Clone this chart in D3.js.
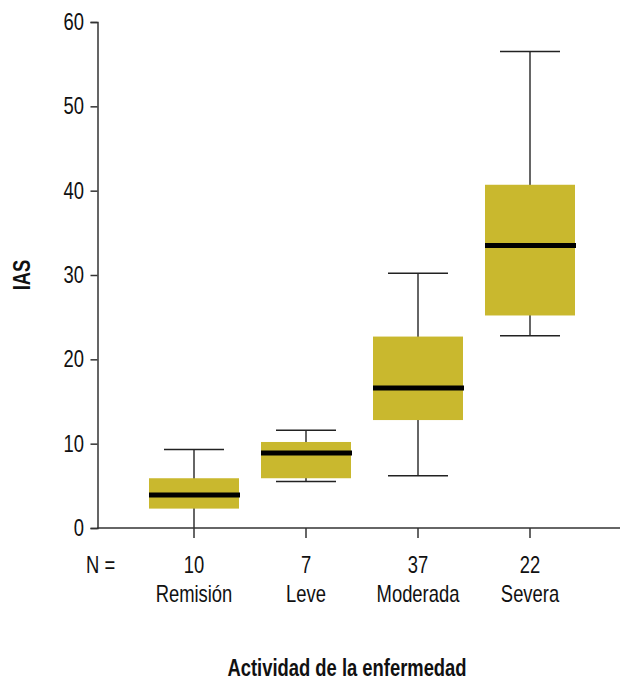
<!DOCTYPE html>
<html>
<head>
  <meta charset="UTF-8">
  <title>IAS por actividad de la enfermedad</title>
  <style>
    body { margin: 0; padding: 0; background: #fff; }
    text { font-family: "Liberation Sans", Arial, sans-serif; fill: #111; }
  </style>
</head>
<body>
<svg width="620" height="681"></svg>
<script src="https://d3js.org/d3.v7.min.js"></script>
<script>

var categories = ["Remisión", "Leve", "Moderada", "Severa"]
var counts = [10, 7, 37, 22]
var whiskerLow = [0, 5.5, 6.2, 22.8]
var q1 = [2.3, 5.9, 12.8, 25.2]
var medians = [3.9, 8.9, 16.6, 33.5]
var q3 = [5.9, 10.2, 22.7, 40.7]
var whiskerHigh = [9.3, 11.6, 30.2, 56.5]
var yTicks = [0, 10, 20, 30, 40, 50, 60]

var data = categories.map((c, i) => ({
  cat: c, n: counts[i], lo: whiskerLow[i], q1: q1[i],
  med: medians[i], q3: q3[i], hi: whiskerHigh[i]
}))

var svg = d3.select("svg")
var axisColor = "#333"
var boxColor = "#c9b82e"
var fontSize = 23
var narrow = 0.8   // no condensed font installed, squeeze the glyphs instead

var x = d3.scaleBand().domain(categories).range([138, 586]).paddingInner(0.2).paddingOuter(0.1)
var y = d3.scaleLinear().domain([0, 60]).range([528, 22])

var boxW = 90
var capW = 60

// narrow label helper
function label(px, py, txt, anchor, bold, rotate) {
  var t = "translate(" + px + "," + py + ")" + (rotate ? " rotate(" + rotate + ")" : "") + " scale(" + narrow + ",1)"
  return svg.append("text")
    .attr("transform", t)
    .attr("text-anchor", anchor || "start")
    .style("font-size", fontSize + "px")
    .style("font-weight", bold ? "bold" : "normal")
    .text(txt)
}

// y axis
var yAxis = svg.append("g")
  .attr("transform", "translate(97.5,0)")
  .call(d3.axisLeft(y).tickValues(yTicks).tickSize(7).tickPadding(6))
yAxis.select(".domain").attr("stroke", axisColor).attr("stroke-width", 1.5)
yAxis.selectAll(".tick line").attr("stroke", axisColor).attr("stroke-width", 1.5)
yAxis.selectAll(".tick text").remove()
yTicks.forEach(v => label(84, y(v) + 8, v, "end"))

// x axis: line across, ticks at categories
svg.append("line")
  .attr("x1", 97).attr("x2", 620)
  .attr("y1", y(0)).attr("y2", y(0))
  .attr("stroke", axisColor).attr("stroke-width", 1.5)

var cx = d => x(d.cat) + x.bandwidth() / 2

var groups = svg.selectAll("g.box")
  .data(data)
  .enter()
  .append("g")
  .attr("class", "box")

groups.append("line")
  .attr("x1", cx).attr("x2", cx)
  .attr("y1", y(0)).attr("y2", y(0) + 10)
  .attr("stroke", axisColor).attr("stroke-width", 1.5)

// whisker stem
groups.append("line")
  .attr("x1", cx).attr("x2", cx)
  .attr("y1", d => y(d.lo)).attr("y2", d => y(d.hi))
  .attr("stroke", axisColor).attr("stroke-width", 1.5)

// caps (none when whisker sits on the axis)
groups.filter(d => d.lo > 0).append("line")
  .attr("x1", d => cx(d) - capW / 2).attr("x2", d => cx(d) + capW / 2)
  .attr("y1", d => y(d.lo)).attr("y2", d => y(d.lo))
  .attr("stroke", "#222").attr("stroke-width", 1.5)

groups.append("line")
  .attr("x1", d => cx(d) - capW / 2).attr("x2", d => cx(d) + capW / 2)
  .attr("y1", d => y(d.hi)).attr("y2", d => y(d.hi))
  .attr("stroke", "#222").attr("stroke-width", 1.5)

groups.append("rect")
  .attr("x", d => cx(d) - boxW / 2)
  .attr("width", boxW)
  .attr("y", d => y(d.q3))
  .attr("height", d => y(d.q1) - y(d.q3))
  .attr("fill", boxColor)

groups.append("line")
  .attr("x1", d => cx(d) - boxW / 2).attr("x2", d => cx(d) + boxW / 2 + 1)
  .attr("y1", d => y(d.med)).attr("y2", d => y(d.med))
  .attr("stroke", "#000").attr("stroke-width", 5)

data.forEach(d => {
  label(cx(d), 573, d.n, "middle")
  label(cx(d), 602, d.cat, "middle")
})

label(86, 573, "N =", "start")
label(347, 676, "Actividad de la enfermedad", "middle", true)
label(30, 275, "IAS", "middle", true, -90)

</script>
</body>
</html>
